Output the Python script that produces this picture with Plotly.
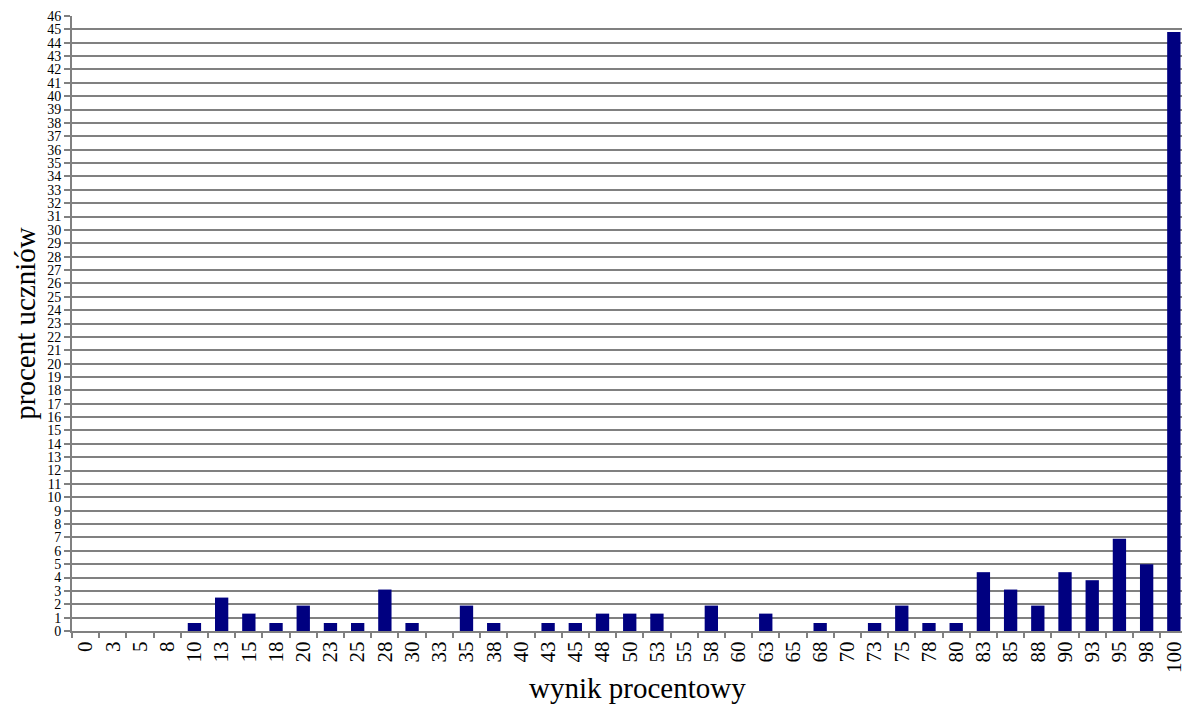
import plotly.graph_objects as go

# Wynik procentowy (kategorie osi X)
wyniki = ["0", "3", "5", "8", "10", "13", "15", "18", "20", "23", "25", "28", "30", "33",
          "35", "38", "40", "43", "45", "48", "50", "53", "55", "58", "60", "63", "65",
          "68", "70", "73", "75", "78", "80", "83", "85", "88", "90", "93", "95", "98", "100"]

# Procent uczniów z danym wynikiem
procent = [0, 0, 0, 0, 0.6, 2.5, 1.3, 0.6, 1.9, 0.6, 0.6, 3.1, 0.6, 0,
           1.9, 0.6, 0, 0.6, 0.6, 1.3, 1.3, 1.3, 0, 1.9, 0, 1.3, 0,
           0.6, 0, 0.6, 1.9, 0.6, 0.6, 4.4, 3.1, 1.9, 4.4, 3.8, 6.9, 5.0, 44.8]

y_ticks = list(range(0, 47))

W, H = 1186, 709
L, R, T, B = 72, 0, 16, 78
plot_w = W - L - R

serif = "Liberation Serif"
grid = "#808080"

fig = go.Figure(
    go.Bar(
        x=wyniki,
        y=procent,
        marker=dict(color="#000080", line=dict(width=0)),
        hoverinfo="x+y",
    )
)

fig.update_layout(
    width=W,
    height=H,
    margin=dict(l=L, r=R, t=T, b=B),
    paper_bgcolor="white",
    plot_bgcolor="white",
    bargap=0.51,
    showlegend=False,
    font=dict(family=serif, color="black"),
)

fig.update_xaxes(
    type="category",
    categoryorder="array",
    categoryarray=wyniki,
    range=[-0.5, 40.3],
    tickson="boundaries",
    ticks="outside",
    ticklen=5,
    tickwidth=1.5,
    tickcolor=grid,
    tickangle=-90,
    tickfont=dict(family=serif, size=21, color="black"),
    showline=True,
    linecolor=grid,
    linewidth=2,
    showgrid=False,
    zeroline=False,
)

fig.update_yaxes(
    range=[0, 46],
    tickvals=y_ticks,
    ticktext=[str(v) for v in y_ticks],
    ticks="outside",
    ticklen=6,
    tickwidth=1.5,
    tickcolor=grid,
    tickfont=dict(family=serif, size=14, color="black"),
    showline=True,
    linecolor=grid,
    linewidth=2,
    showgrid=True,
    gridcolor=grid,
    gridwidth=1.6,
    zeroline=False,
)

# Tytuły osi
fig.add_annotation(
    text="wynik procentowy",
    xref="paper", yref="paper",
    x=(640 - L) / plot_w, y=-(688 - (H - B)) / (H - T - B),
    xanchor="center", yanchor="middle",
    showarrow=False,
    font=dict(family=serif, size=29, color="black"),
)
fig.add_annotation(
    text="procent uczniów",
    xref="paper", yref="paper",
    x=(24 - L) / plot_w, y=0.5,
    xanchor="center", yanchor="middle",
    textangle=-90,
    showarrow=False,
    font=dict(family=serif, size=29, color="black"),
)

fig.write_html("out.html")
